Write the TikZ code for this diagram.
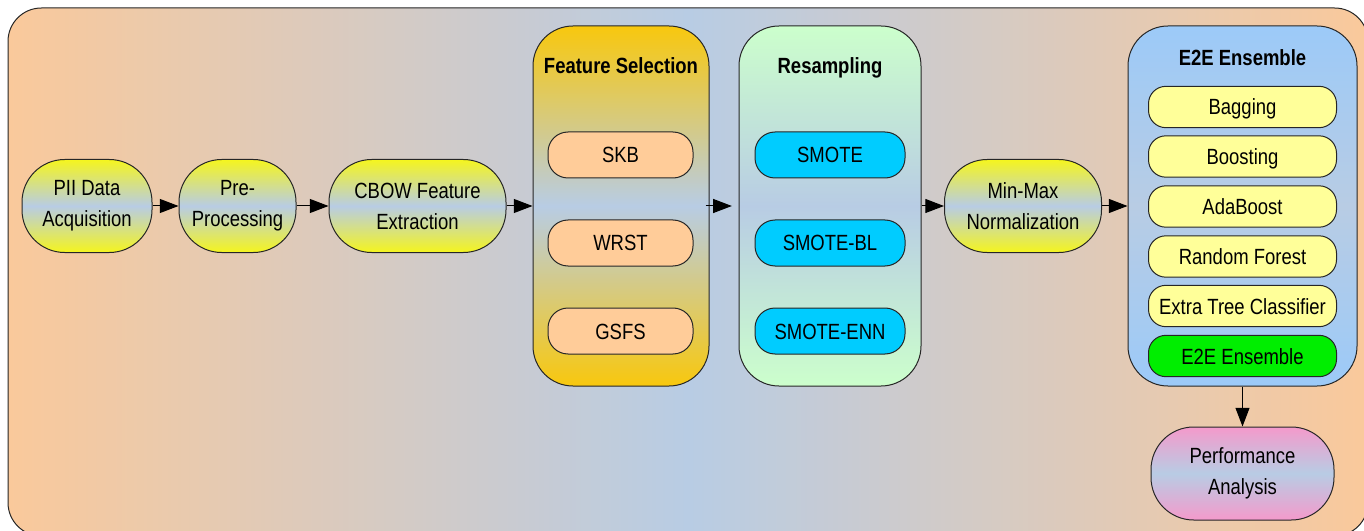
\documentclass[tikz,border=0pt]{standalone}
\usepackage{fontspec}
\setmainfont{Liberation Sans}[FakeStretch=0.84]
\usetikzlibrary{arrows.meta}
\definecolor{peach}{HTML}{FAC99B}
\definecolor{midblue}{HTML}{B8CCE4}
\definecolor{stadyellow}{HTML}{F5F51E}
\definecolor{gold}{HTML}{F8C80E}
\definecolor{lgreen}{HTML}{CCFFCC}
\definecolor{skyblue}{HTML}{9CCAF8}
\definecolor{pinkish}{HTML}{F49ACB}
\definecolor{fsfill}{HTML}{FFCC99}
\definecolor{rsfill}{HTML}{00CCFF}
\definecolor{enfill}{HTML}{FFFF99}
\definecolor{egreen}{HTML}{00EE00}
\definecolor{edge}{HTML}{262626}
\begin{document}
\begin{tikzpicture}[x=0.75pt,y=-0.75pt,
  every node/.style={font=\fontsize{16.5pt}{23.25pt}\selectfont, inner sep=0pt, align=center},
  stad/.style={draw=edge, line width=0.75pt, top color=stadyellow, bottom color=stadyellow, middle color=midblue, minimum height=69.75pt, rounded corners=32pt},
  perfbox/.style={draw=edge, line width=0.75pt, top color=pinkish, bottom color=pinkish, middle color=midblue, minimum height=69.75pt, rounded corners=32pt},
  group/.style={draw=edge, line width=0.75pt, minimum height=270pt, rounded corners=30pt},
  gtitle/.style={font=\fontsize{16.5pt}{23.25pt}\selectfont\bfseries, anchor=base},
  item/.style={draw=edge, line width=0.75pt, text height=12pt, text depth=0pt},
  fsitem/.style={item, fill=fsfill, minimum width=108.75pt, minimum height=34.5pt, rounded corners=15pt},
  rsitem/.style={item, fill=rsfill, minimum width=112.5pt, minimum height=34.5pt, rounded corners=15pt},
  enitem/.style={item, fill=enfill, minimum width=141pt, minimum height=31pt, rounded corners=13pt},
  arr/.style={draw=black, line width=0.75pt, -{Triangle[length=14pt,width=10.5pt]}}
]
\useasboundingbox (0,0) rectangle (1364,531);
\begin{scope}
\clip (0,0) rectangle (1364,531);
\path[draw=edge, line width=0.75pt, left color=peach, right color=peach, middle color=midblue, rounded corners=25pt] (8,8) rectangle (1368,536);
\end{scope}

% main chain
\node[stad, minimum width=97.5pt] (pii) at (87,206) {PII Data\\Acquisition};
\node[stad, minimum width=87.75pt] (pre) at (237.5,206) {Pre-\\Processing};
\node[stad, minimum width=132.75pt] (cbow) at (417.5,206) {CBOW Feature\\Extraction};
\node[stad, minimum width=117.75pt] (mm) at (1023,206) {Min-Max\\Normalization};

% Feature selection group
\node[group, minimum width=132pt, top color=gold, bottom color=gold, middle color=midblue] (fs) at (621,206) {};
\node[gtitle] (fst) at (621,74) {Feature Selection};
\node[fsitem] (skb) at (620.5,155) {SKB};
\node[fsitem] (wrst) at (620.5,243) {WRST};
\node[fsitem] (gsfs) at (620.5,331) {GSFS};

% Resampling group
\node[group, minimum width=136.5pt, top color=lgreen, bottom color=lgreen, middle color=midblue] (rs) at (830,206) {};
\node[gtitle] (rst) at (830,74) {Resampling};
\node[rsitem] (smote) at (830,155) {SMOTE};
\node[rsitem] (smotebl) at (830,243) {SMOTE-BL};
\node[rsitem] (smoteenn) at (830,331) {SMOTE-ENN};

% E2E group
\node[group, minimum width=171.75pt, top color=skyblue, bottom color=skyblue, middle color=midblue] (e2e) at (1242.5,206) {};
\node[gtitle] (e2et) at (1242.5,65.5) {E2E Ensemble};
\node[enitem] (bag) at (1242.5,107) {Bagging};
\node[enitem] (boost) at (1242.5,156.5) {Boosting};
\node[enitem] (ada) at (1242.5,206.5) {AdaBoost};
\node[enitem] (rf) at (1242.5,256.5) {Random Forest};
\node[enitem] (etc) at (1242.5,306) {Extra Tree Classifier};
\node[enitem, fill=egreen] (ens) at (1242.5,356) {E2E Ensemble};

\node[perfbox, minimum width=137.25pt] (perf) at (1242.5,473.5) {Performance\\Analysis};

% connectors
\draw[arr] (pii) -- (pre);
\draw[arr] (pre) -- (cbow);
\draw[arr] (cbow) -- (fs);
\draw[arr, shorten <=-3pt, shorten >=5pt] (fs) -- (rs);
\draw[arr] (rs) -- (mm);
\draw[arr] (mm) -- (e2e);
\draw[arr] (e2e) -- (perf);
\end{tikzpicture}
\end{document}
